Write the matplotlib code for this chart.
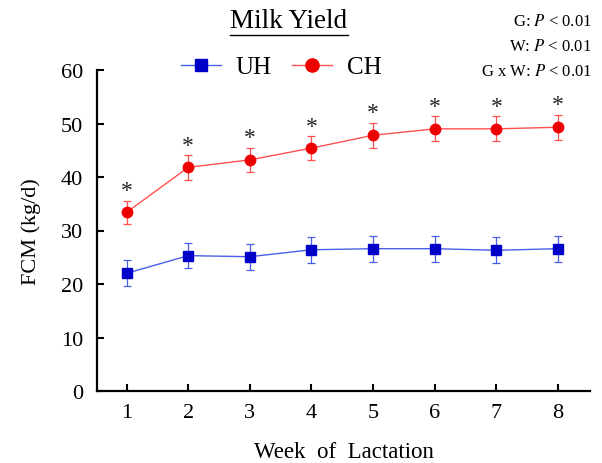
import matplotlib
matplotlib.use("Agg")
import matplotlib.pyplot as plt
from matplotlib.lines import Line2D

weeks = [1, 2, 3, 4, 5, 6, 7, 8]
uh_mean = [22.0, 25.3, 25.1, 26.4, 26.6, 26.6, 26.3, 26.6]
uh_se = [2.4, 2.4, 2.4, 2.4, 2.4, 2.4, 2.4, 2.4]
ch_mean = [33.4, 41.8, 43.2, 45.4, 47.8, 49.0, 49.0, 49.3]
ch_se = [2.2, 2.3, 2.3, 2.3, 2.35, 2.35, 2.35, 2.35]
signif = [True] * 8
yticks = [0, 10, 20, 30, 40, 50, 60]
stats_lines = [("G: ", "P", " < 0.01"), ("W: ", "P", " < 0.01"), ("G x W: ", "P", " < 0.01")]

plt.rcParams['font.family'] = ['Liberation Serif', 'DejaVu Serif']
plt.rcParams['mathtext.fontset'] = 'stix'

fig = plt.figure(figsize=(6.02, 4.64), dpi=100)
ax = fig.add_axes([97/602, 1 - 392/464, (590-97)/602, (392-71)/464])

uh_line = '#4a5ee8'
uh_mark = '#0000c8'
ch_line = '#ff5050'
ch_mark = '#ee0000'

ax.errorbar(weeks, uh_mean, yerr=uh_se, fmt='none', ecolor=uh_line, elinewidth=0.9,
            capsize=3.2, capthick=0.9, zorder=2)
ax.plot(weeks, uh_mean, color=uh_line, lw=1.0, marker='s', markersize=7,
        markerfacecolor=uh_mark, markeredgecolor=uh_mark, zorder=3)
ax.errorbar(weeks, ch_mean, yerr=ch_se, fmt='none', ecolor=ch_line, elinewidth=0.9,
            capsize=3.2, capthick=0.9, zorder=2)
ax.plot(weeks, ch_mean, color=ch_line, lw=1.0, marker='o', markersize=7.5,
        markerfacecolor=ch_mark, markeredgecolor=ch_mark, zorder=3)

for w, m, s, sig in zip(weeks, ch_mean, ch_se, signif):
    if sig:
        ax.annotate('*', xy=(w, m + s), xytext=(0, 7), textcoords='offset points',
                    ha='center', va='center', fontsize=17, color='#222222')

ax.set_xlim(0.52, 8.52)
ax.set_ylim(0, 60)
ax.set_xticks(weeks)
ax.set_yticks(yticks)
ax.tick_params(direction='in', length=5, width=1.5, labelsize=16, pad=9)
ax.tick_params(axis='y', pad=10)
for sp in ['top', 'right']:
    ax.spines[sp].set_visible(False)
for sp in ['left', 'bottom']:
    ax.spines[sp].set_linewidth(1.6)

ax.set_xlabel('Week  of  Lactation', fontsize=16.5, labelpad=13)
ax.set_ylabel('FCM (kg/d)', fontsize=16, labelpad=14)

handles = [Line2D([], [], color=uh_line, lw=1.0, marker='s', markersize=9,
                  markerfacecolor=uh_mark, markeredgecolor=uh_mark),
           Line2D([], [], color=ch_line, lw=1.0, marker='o', markersize=9.5,
                  markerfacecolor=ch_mark, markeredgecolor=ch_mark)]
fig.legend(handles, ['UH', 'CH'], loc='center', bbox_to_anchor=(281/602, 1 - 68/464),
           ncol=2, frameon=False, fontsize=18, handlelength=1.6, handletextpad=0.6,
           columnspacing=0.8)

title = fig.text(289/602, 1 - 22/464, 'Milk Yield', ha='center', va='center', fontsize=19.5)
fig.canvas.draw()
bb = title.get_window_extent(fig.canvas.get_renderer())
uy = bb.y0 - 1
fig.add_artist(Line2D([bb.x0 / fig.bbox.width, bb.x1 / fig.bbox.width],
                      [uy / fig.bbox.height, uy / fig.bbox.height],
                      color='black', lw=1.0, transform=fig.transFigure))

for i, (a, p, b) in enumerate(stats_lines):
    y = 1 - (22 + 25 * i) / 464
    fig.text(592/602, y, a + r'$\it{' + p + '}$' + b, ha='right', va='center', fontsize=12)

fig.savefig('out.png', dpi=100)
